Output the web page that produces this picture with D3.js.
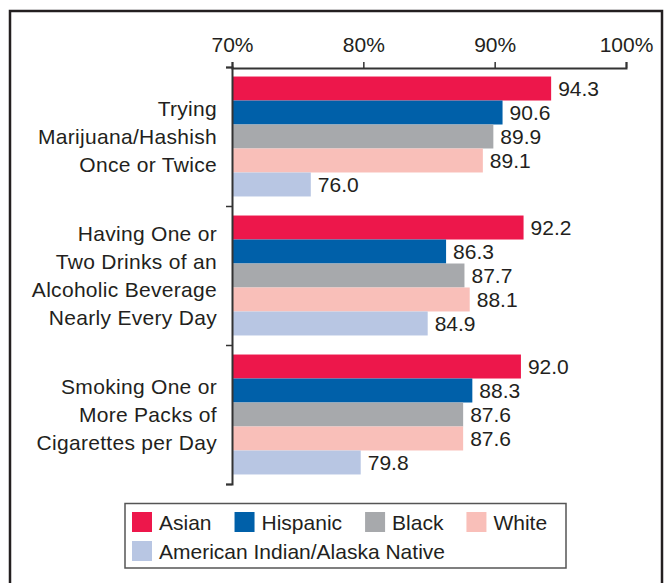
<!DOCTYPE html>
<html><head><meta charset="utf-8">
<script src="https://cdn.jsdelivr.net/npm/d3@7"></script>
<style>
body{margin:0;background:#fff}
text{font-family:"Liberation Sans",Arial,Helvetica,sans-serif;fill:#231f20}
</style>
</head><body><svg id="c" width="668" height="583"></svg>
<script>
// ---- data ----
const categories = ["Trying Marijuana/Hashish Once or Twice",
  "Having One or Two Drinks of an Alcoholic Beverage Nearly Every Day",
  "Smoking One or More Packs of Cigarettes per Day"];
const categoryLines = [
  ["Trying", "Marijuana/Hashish", "Once or Twice"],
  ["Having One or", "Two Drinks of an", "Alcoholic Beverage", "Nearly Every Day"],
  ["Smoking One or", "More Packs of", "Cigarettes per Day"]
];
const series = ["Asian", "Hispanic", "Black", "White", "American Indian/Alaska Native"];
const asian    = [94.3, 92.2, 92.0];
const hispanic = [90.6, 86.3, 88.3];
const black    = [89.9, 87.7, 87.6];
const white    = [89.1, 88.1, 87.6];
const aian     = [76.0, 84.9, 79.8];
const tickValues = [70, 80, 90, 100];
const colors = ["#ED174B", "#0060A9", "#A7A9AC", "#F9BFB9", "#B8C6E3"];

const values = [asian, hispanic, black, white, aian];

// ---- drawing ----
const svg = d3.select("#c");
const FONT = 21;

// outer frame
svg.append("rect").attr("x", 10).attr("y", 11).attr("width", 652).attr("height", 620)
  .attr("fill", "none").attr("stroke", "#231f20").attr("stroke-width", 2.5);

const x = d3.scaleLinear().domain([70, 100]).range([232, 626]);
const pi = 0.137;
const y0 = d3.scaleBand().domain(categories).range([67, 484]).paddingInner(pi).paddingOuter(pi / 2);
const y1 = d3.scaleBand().domain(series).range([0, y0.bandwidth()]);

const rows = [];
categories.forEach((c, ci) => series.forEach((s, si) => rows.push({c, ci, s, si, v: values[si][ci]})));

// bars
svg.append("g").selectAll("rect").data(rows).join("rect")
  .attr("x", x(70))
  .attr("y", d => y0(d.c) + y1(d.s))
  .attr("width", d => x(d.v) - x(70))
  .attr("height", y1.bandwidth())
  .attr("fill", d => colors[d.si]);

// value labels
svg.append("g").selectAll("text").data(rows).join("text")
  .attr("x", d => x(d.v) + 7)
  .attr("y", d => y0(d.c) + y1(d.s) + y1.bandwidth() / 2)
  .attr("dy", "0.36em")
  .attr("font-size", FONT)
  .text(d => d.v.toFixed(1));

// top axis
const gx = svg.append("g").attr("transform", "translate(0,68)")
  .call(d3.axisTop(x).tickValues(tickValues).tickSize(6).tickPadding(10).tickFormat(d => d + "%"));
gx.select(".domain").attr("stroke", "#333").attr("stroke-width", 2);
gx.selectAll(".tick line").attr("stroke", "#333").attr("stroke-width", 1.5);
gx.selectAll(".tick text").attr("font-size", FONT).attr("font-family", null).attr("fill", "#231f20");

// left axis with boundary ticks
const yb = d3.scaleLinear().domain([0, categories.length]).range([y0.range()[0], y0.range()[1]]);
const gy = svg.append("g").attr("transform", "translate(232,0)")
  .call(d3.axisLeft(yb).tickValues(d3.range(categories.length + 1)).tickSize(6).tickFormat(""));
gy.select(".domain").attr("stroke", "#333").attr("stroke-width", 2);
gy.selectAll(".tick line").attr("stroke", "#333").attr("stroke-width", 1.5);

// category labels
const lh = 27.8;
categories.forEach((c, ci) => {
  const lines = categoryLines[ci];
  const cy = y0(c) + y0.bandwidth() / 2;
  const t = svg.append("text").attr("text-anchor", "end").attr("font-size", FONT)
    .attr("letter-spacing", 0.3);
  lines.forEach((ln, li) => {
    t.append("tspan").attr("x", 217)
      .attr("y", cy + (li - (lines.length - 1) / 2) * lh + 7.5)
      .text(ln);
  });
});

// legend
svg.append("rect").attr("x", 125).attr("y", 503.5).attr("width", 441).attr("height", 64.5)
  .attr("fill", "#fff").attr("stroke", "#555").attr("stroke-width", 1.5);
const legendRows = [[0, 1, 2, 3], [4]];
legendRows.forEach((r, ri) => {
  let lx = 132;
  const ly = 512 + ri * 29;
  r.forEach(si => {
    svg.append("rect").attr("x", lx).attr("y", ly).attr("width", 20).attr("height", 20).attr("fill", colors[si]);
    const t = svg.append("text").attr("x", lx + 27).attr("y", ly + 18).attr("font-size", FONT).text(series[si]);
    lx += 27 + t.node().getComputedTextLength() + 23;
  });
});
</script>
</body></html>
